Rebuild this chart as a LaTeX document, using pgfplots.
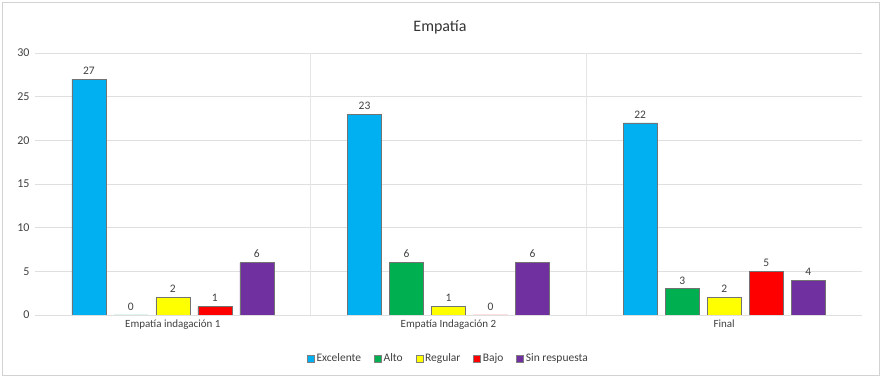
\documentclass[border=0pt]{standalone}
\usepackage{pgfplots}
\pgfplotsset{compat=1.18}
\usepackage{fontspec}
\setmainfont{Carlito}
\definecolor{exc}{HTML}{00B0F0}
\definecolor{alto}{HTML}{00B050}
\definecolor{reg}{HTML}{FFFF00}
\definecolor{bajo}{HTML}{FF0000}
\definecolor{sinr}{HTML}{7030A0}
\begin{document}
\begin{tikzpicture}[x=1pt,y=1pt]
\useasboundingbox (0,0) rectangle (888,379);
\draw[gray!35] (2,4) rectangle (879,377);
\node[font=\fontsize{16}{18}\selectfont, text=black!80] at (440,352) {Empatía};
\begin{axis}[
  at={(35pt,64pt)}, anchor=south west, scale only axis,
  width=827pt, height=262pt,
  ymin=0, ymax=30, ytick={0,5,...,30},
  xmin=-0.5, xmax=2.5, xtick={0,1,2},
  xticklabels={Empatía indagación 1, Empatía Indagación 2, Final},
  extra x ticks={0.5,1.5}, extra x tick labels={},
  extra x tick style={grid=major, major grid style={gray!20}},
  ymajorgrids, grid style={gray!25},
  major tick length=0pt,
  axis line style={draw=none},
  tick label style={font=\fontsize{11}{13}\selectfont, text=black!75},
  yticklabel style={font=\fontsize{12}{14}\selectfont, xshift=-2pt},
  /pgf/number format/assume math mode=true,
  xticklabel style={yshift=-1pt},
  ybar=8pt, bar width=34pt,
  nodes near coords,
  every node near coord/.append style={font=\fontsize{11.5}{13}\selectfont, text=black!75, yshift=1pt},
  legend style={at={(0.5,-0.165)}, anchor=center, draw=none, legend columns=-1,
    font=\fontsize{11.5}{13}\selectfont, text=black!75,
    /tikz/every even column/.append style={column sep=11pt}},
  legend image code/.code={\draw[#1, draw=black!50, line width=0.4pt] (0pt,-3.5pt) rectangle (7pt,3.5pt);},
]
\addplot[fill=exc, draw=black!55, line width=0.6pt] coordinates {(0,27) (1,23) (2,22)};
\addplot[fill=alto, draw=black!55, line width=0.6pt] coordinates {(0,0) (1,6) (2,3)};
\addplot[fill=reg, draw=black!55, line width=0.6pt] coordinates {(0,2) (1,1) (2,2)};
\addplot[fill=bajo, draw=black!55, line width=0.6pt] coordinates {(0,1) (1,0) (2,5)};
\addplot[fill=sinr, draw=black!55, line width=0.6pt] coordinates {(0,6) (1,6) (2,4)};
\legend{Excelente, Alto, Regular, Bajo, Sin respuesta}
\end{axis}
\end{tikzpicture}
\end{document}
